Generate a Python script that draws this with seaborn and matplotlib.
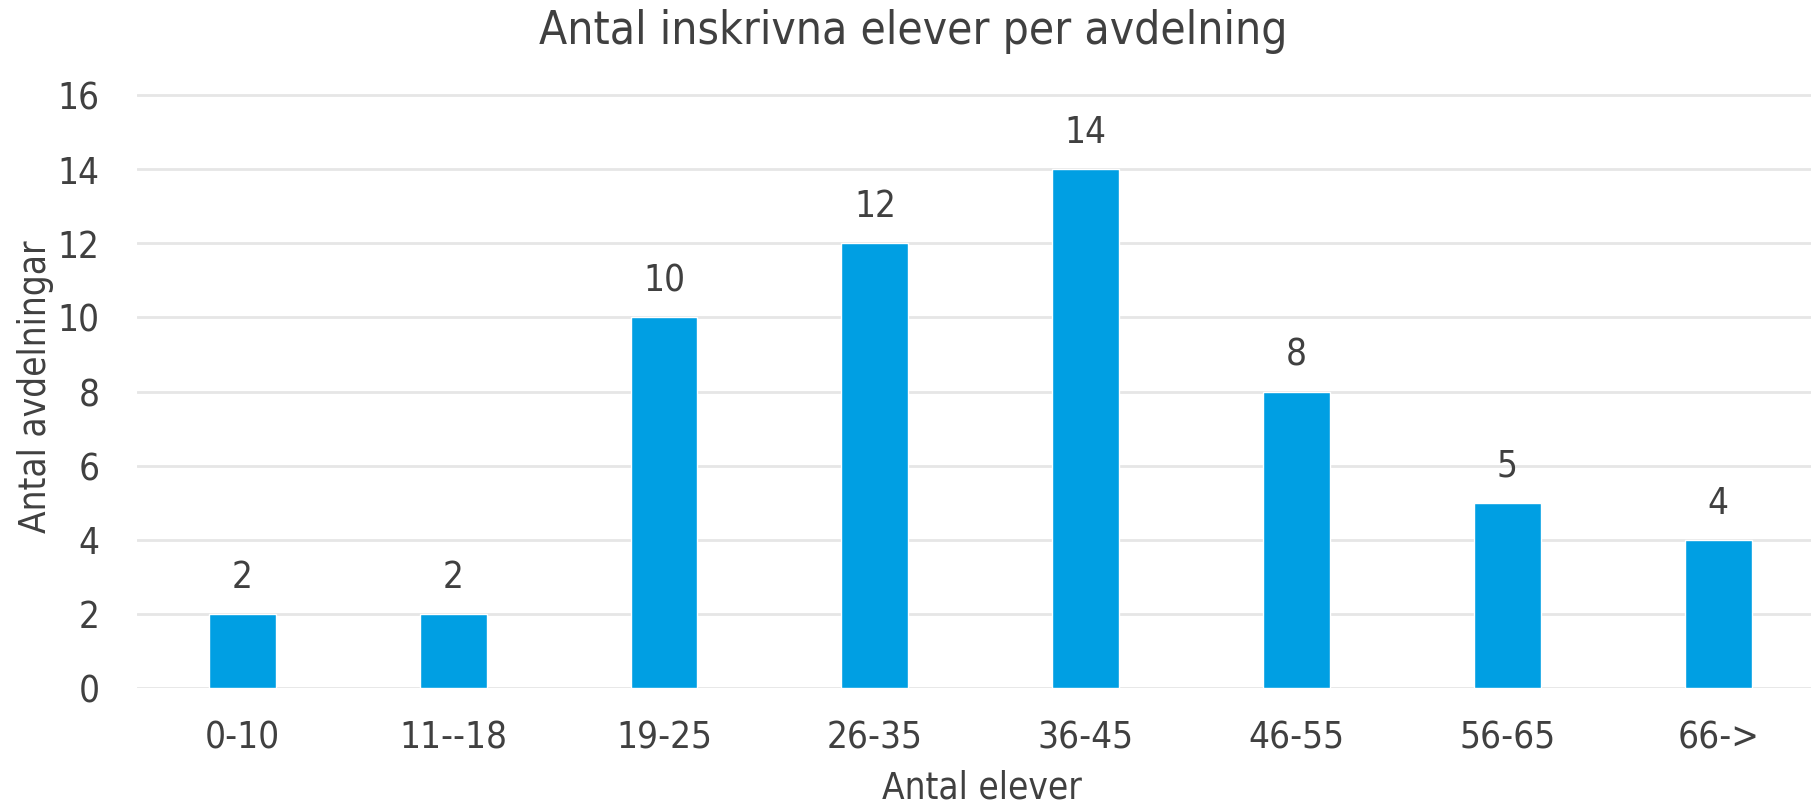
import matplotlib
matplotlib.use("Agg")
import matplotlib.pyplot as plt
import seaborn as sns
import pandas as pd

# data
categories = ['0-10', '11--18', '19-25', '26-35', '36-45', '46-55', '56-65', '66->']
antal = [2, 2, 10, 12, 14, 8, 5, 4]

title = 'Antal inskrivna elever per avdelning'
xlabel = 'Antal elever'
ylabel = 'Antal avdelningar'

df = pd.DataFrame({'kat': categories, 'antal': antal})

sns.set_style('white')
plt.rcParams['font.family'] = ['DejaVu Sans']
plt.rcParams['font.stretch'] = 'condensed'
txt = '#404040'
fs = 26.5

fig = plt.figure(figsize=(18.11, 8.07), dpi=100)
ax = fig.add_axes([137/1811, 119/807, (1811-137)/1811, 604/807])

sns.barplot(data=df, x='kat', y='antal', color='#009FE3', saturation=1,
            width=0.317, ax=ax, zorder=3)

ax.set_xlim(-0.5, 7.44)
ax.set_ylim(0, 16.3)
ax.set_yticks(range(0, 17, 2))
ax.grid(axis='y', color='#e6e6e6', linewidth=2, zorder=0)
ax.set_axisbelow(True)
for s in ax.spines.values():
    s.set_visible(False)
ax.tick_params(axis='both', length=0, labelsize=fs, colors=txt)
ax.tick_params(axis='y', pad=27)
ax.tick_params(axis='x', pad=23)

for c in ax.containers:
    ax.bar_label(c, labels=[str(v) for v in antal], padding=13,
                 fontsize=fs, color=txt)

ax.set_xlabel('')
ax.set_ylabel('')
fig.text(982/1811, 1 - 788/807, xlabel, ha='center', va='center',
         fontsize=fs, color=txt)
fig.text(36/1811, 1 - 387/807, ylabel, ha='center', va='center',
         rotation=90, fontsize=fs, color=txt)
fig.text(913/1811, 1 - 32/807, title, ha='center', va='center',
         fontsize=33, color=txt)

fig.savefig('out.png', dpi=100)
